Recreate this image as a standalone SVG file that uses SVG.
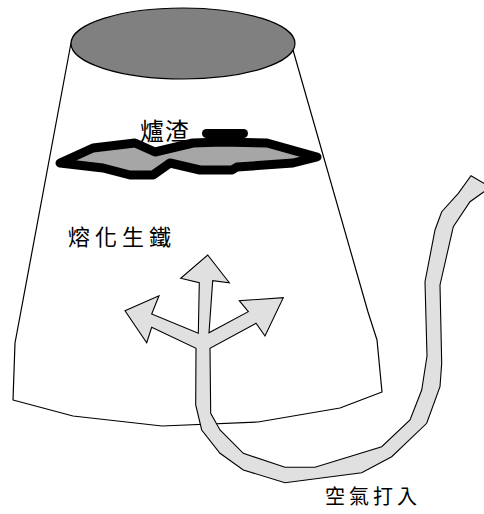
<svg xmlns="http://www.w3.org/2000/svg" width="484" height="514" viewBox="0 0 484 514">
  <style>
    .outline { fill: #ffffff; stroke: #000000; stroke-width: 1.2; stroke-linejoin: round; }
    .mouth { fill: #808080; stroke: #000000; stroke-width: 1.2; }
    .slag { fill: #a6a6a6; stroke: #000000; stroke-width: 9; stroke-linejoin: round; }
    .crust { fill: #000000; }
    .air { fill: #e0e0e0; stroke: #000000; stroke-width: 1.1; stroke-linejoin: miter; }
    .label { font-family: "Noto Sans CJK TC", "Noto Sans CJK SC", sans-serif; fill: #000000; }
  </style>

  <!-- furnace body -->
  <g id="furnace">
    <polygon class="outline" points="71,43 15,343 13,400 73,416 162,426 258,422 340,408 382,392 377,340 368,312 293,50"/>
    <ellipse class="mouth" cx="183" cy="43.5" rx="112" ry="35.5"/>
  </g>

  <!-- slag layer floating on the melt -->
  <g id="slag">
    <polygon class="slag" points="60,163 93,148 135,143 155,152 193,143 222,142 267,143 317,157 293,163 237,167 232,170 200,170 170,163 153,175 130,175 103,168"/>
    <rect class="crust" x="202" y="129" width="46" height="9" rx="4.5"/>
    <text class="label" x="140" y="140" font-size="24" letter-spacing="1">爐渣</text>
  </g>

  <!-- molten iron label -->
  <g id="molten-iron">
    <text class="label" x="68" y="245" font-size="22" letter-spacing="5">熔化生鐵</text>
  </g>

  <!-- air blast pipe branching into three arrows -->
  <g id="air-blast">
    <path class="air" d="M490,187 L484,191.7 L470,201.7 L453.3,226.7 L440,285 L441.7,363.3 L440,386.7 L426.7,423.3 L391.7,456.7 L361.7,472.7 L285,482.7 L243.3,470 L220,453.3 L201.7,430 L195.7,405 L196,348.3
      L151.7,327.3 L146.7,342.7 L125,310.7 L159,295.7 L151.7,314 L198.3,333.3
      L199.3,282.7 L180.7,278.3 L207.7,255 L229.3,282.7 L212.7,280.7 L209,332.7
      L248.3,311.7 L239.3,300.7 L283.3,297.7 L265,336 L256,323.3 L210,348.3
      L210.7,413.3 L220,430 L243.3,453.3 L285,467.3 L315,467.3 L381.7,446.7 L410,420 L421.7,390 L427,356 L425,281.7 L435,230 L441.7,211.7 L458.3,193.3 L471,175.7 Z"/>
    <text class="label" x="325" y="504" font-size="20" letter-spacing="4">空氣打入</text>
  </g>
</svg>
